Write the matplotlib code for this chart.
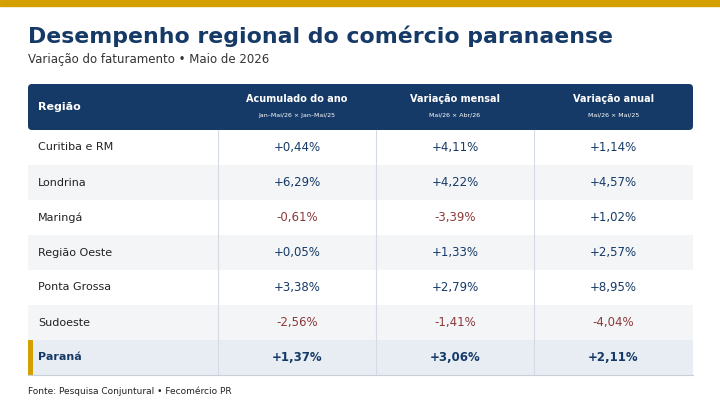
import matplotlib.pyplot as plt
from matplotlib.patches import Rectangle, FancyBboxPatch

regions = ["Curitiba e RM", "Londrina", "Maringá", "Região Oeste", "Ponta Grossa", "Sudoeste", "Paraná"]
acum = [0.44, 6.29, -0.61, 0.05, 3.38, -2.56, 1.37]
mensal = [4.11, 4.22, -3.39, 1.33, 2.79, -1.41, 3.06]
anual = [1.14, 4.57, 1.02, 2.57, 8.95, -4.04, 2.11]
headers = ["Acumulado do ano", "Variação mensal", "Variação anual"]
subheads = ["Jan–Mai/26 × Jan–Mai/25", "Mai/26 × Abr/26", "Mai/26 × Mai/25"]

navy = "#163a67"
red = "#8b3a3a"
gold = "#d4a000"

fig = plt.figure(figsize=(7.2, 4.0), dpi=100)
ax = fig.add_axes([0, 0, 1, 1])
ax.set_xlim(0, 720)
ax.set_ylim(400, 0)
ax.axis("off")

ax.add_patch(Rectangle((0, 0), 720, 6, color=gold))
ax.text(28, 36, "Desempenho regional do comércio paranaense", fontsize=15.8, fontweight="bold",
        color=navy, va="center")
ax.text(28, 60, "Variação do faturamento • Maio de 2026", fontsize=8.5, color="#333333", va="center")

x0, x1 = 28, 693
cols = [28, 218, 376, 534, 693]
ax.add_patch(FancyBboxPatch((x0, 84), x1 - x0, 46, boxstyle="round,pad=0,rounding_size=4",
                            color=navy, lw=0))
ax.text(38, 107, "Região", fontsize=8, fontweight="bold", color="white", va="center")
for i, (h, s) in enumerate(zip(headers, subheads)):
    cx = (cols[i + 1] + cols[i + 2]) / 2
    ax.text(cx, 99, h, fontsize=7, fontweight="bold", color="white", ha="center", va="center")
    ax.text(cx, 115, s, fontsize=4.5, color="white", ha="center", va="center")

rh = 35
y = 130
for r, name in enumerate(regions):
    last = r == len(regions) - 1
    bg = "#e8edf4" if last else ("#f4f5f7" if r % 2 == 1 else "white")
    ax.add_patch(Rectangle((x0, y), x1 - x0, rh, color=bg, lw=0))
    if last:
        ax.add_patch(Rectangle((x0, y), 5, rh, color=gold, lw=0))
    cy = y + rh / 2
    w = "bold" if last else "normal"
    ax.text(38, cy, name, fontsize=8, color="#222222" if not last else navy, fontweight=w, va="center")
    for j, v in enumerate([acum[r], mensal[r], anual[r]]):
        cx = (cols[j + 1] + cols[j + 2]) / 2
        s = ("+" if v >= 0 else "-") + f"{abs(v):.2f}".replace(".", ",") + "%"
        ax.text(cx, cy, s, fontsize=8.5, color=navy if v >= 0 else red, fontweight=w,
                ha="center", va="center")
    y += rh

for c in cols[1:4]:
    ax.plot([c, c], [130, 375], color="#d5dbe4", lw=0.8)
ax.plot([x0, x1], [375, 375], color="#c8d0dc", lw=0.8)

ax.text(28, 391, "Fonte: Pesquisa Conjuntural • Fecomércio PR", fontsize=6.5, color="#222222", va="center")

fig.savefig("out.png", dpi=100)
